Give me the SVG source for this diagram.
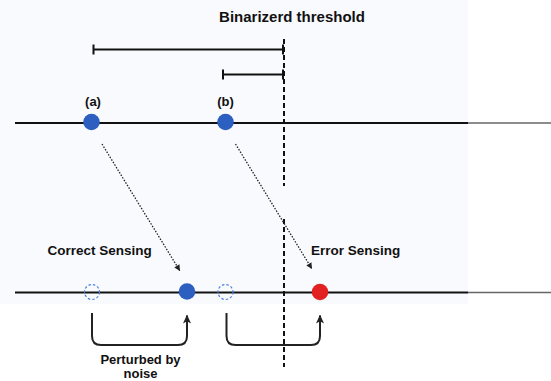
<svg xmlns="http://www.w3.org/2000/svg" width="551" height="381" viewBox="0 0 551 381">
  <style>
    .lbl { font-family: "Liberation Sans", Arial, Helvetica, sans-serif; font-weight: bold; fill: #111; }
    .axis { stroke: #111; stroke-width: 1.8; fill: none; }
    .axis2 { stroke: #666; stroke-width: 1.5; fill: none; }
    .brk { stroke: #111; stroke-width: 2; fill: none; }
    .thr { stroke: #111; stroke-width: 2; stroke-dasharray: 5 3; fill: none; }
    .dot { stroke: #222; stroke-width: 1.3; stroke-dasharray: 1.5 1.5; fill: none; }
    .bend { stroke: #222; stroke-width: 2; fill: none; }
    .blue { fill: #2c5fbf; }
    .red { fill: #e22222; }
    .ghost { fill: none; stroke: #4a80e0; stroke-width: 1.2; stroke-dasharray: 2.5 2; }
  </style>
  <defs>
    <marker id="ah" viewBox="0 0 10 10" refX="10" refY="5" markerWidth="7" markerHeight="6" markerUnits="userSpaceOnUse" orient="auto">
      <path d="M0,0 L10,5 L0,10 Z" fill="#222"/>
    </marker>
    <marker id="ah2" viewBox="0 0 10 10" refX="9" refY="5" markerWidth="9" markerHeight="9" markerUnits="userSpaceOnUse" orient="auto">
      <path d="M0,0.5 L10,5 L0,9.5 L2.5,5 Z" fill="#222"/>
    </marker>
  </defs>

  <rect x="0" y="0" width="468" height="304" fill="#f9fafd"/>

  <text class="lbl" x="292" y="22" font-size="15" text-anchor="middle">Binarizerd threshold</text>

  <g id="axis-top">
    <line class="axis" x1="15" y1="123" x2="468" y2="123"/>
    <line class="axis2" x1="468" y1="123" x2="551" y2="123"/>
  </g>
  <g id="axis-bottom">
    <line class="axis" x1="15" y1="292.5" x2="468" y2="292.5"/>
    <line class="axis2" x1="468" y1="292.5" x2="551" y2="292.5"/>
  </g>

  <g id="threshold">
    <line class="thr" x1="284" y1="39" x2="284" y2="186"/>
    <line class="thr" x1="284" y1="219" x2="284" y2="367"/>
  </g>

  <g id="bracket-a">
    <line class="brk" x1="93.5" y1="49.5" x2="283" y2="49.5"/>
    <line class="brk" x1="93.5" y1="44.5" x2="93.5" y2="54.5"/>
    <line class="brk" x1="283" y1="44.5" x2="283" y2="54.5"/>
  </g>
  <g id="bracket-b">
    <line class="brk" x1="223" y1="74.5" x2="283" y2="74.5"/>
    <line class="brk" x1="223" y1="69.5" x2="223" y2="79.5"/>
    <line class="brk" x1="283" y1="69.5" x2="283" y2="79.5"/>
  </g>

  <g id="node-a">
    <text class="lbl" x="93" y="106" font-size="13" text-anchor="middle">(a)</text>
    <circle class="blue" cx="91.5" cy="122" r="8.3"/>
  </g>
  <g id="node-b">
    <text class="lbl" x="225.5" y="106" font-size="13" text-anchor="middle">(b)</text>
    <circle class="blue" cx="225.5" cy="122" r="8.3"/>
  </g>

  <g id="node-a-ghost"><circle class="ghost" cx="92" cy="292" r="7.5"/></g>
  <g id="node-a-sensed"><circle class="blue" cx="187" cy="291.5" r="8.3"/></g>
  <g id="node-b-ghost"><circle class="ghost" cx="225.5" cy="292" r="7.5"/></g>
  <g id="node-b-sensed"><circle class="red" cx="320" cy="292" r="8.3"/></g>

  <text class="lbl" x="47.5" y="255" font-size="13.5">Correct Sensing</text>
  <text class="lbl" x="311" y="255" font-size="13.5">Error Sensing</text>
  <text class="lbl" x="140.5" y="364" font-size="13" text-anchor="middle">Perturbed by</text>
  <text class="lbl" x="140.5" y="378" font-size="13" text-anchor="middle">noise</text>

  <g id="connectors">
    <line class="dot" x1="102" y1="144" x2="180" y2="271" marker-end="url(#ah)"/>
    <line class="dot" x1="235.5" y1="144" x2="312" y2="269" marker-end="url(#ah)"/>
    <path class="bend" d="M92,313 V336 Q92,345 101,345 H178 Q187,345 187,336 V315.5" marker-end="url(#ah2)"/>
    <path class="bend" d="M226.5,313 V336 Q226.5,345 235.5,345 H311 Q320,345 320,336 V315.5" marker-end="url(#ah2)"/>
  </g>
</svg>
